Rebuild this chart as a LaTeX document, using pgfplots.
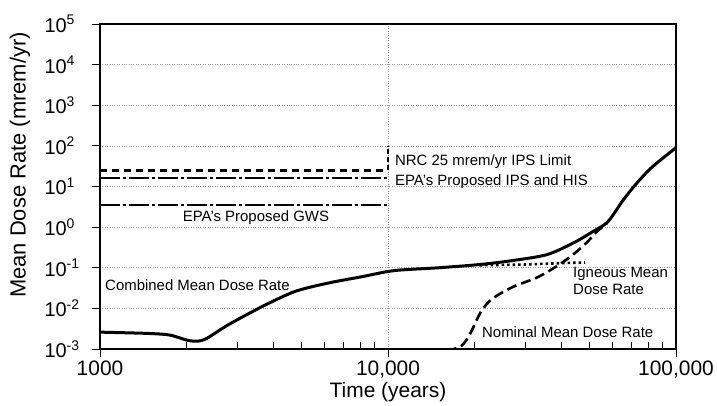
\documentclass[border=0pt]{standalone}
\usepackage{fontspec}
\setmainfont{Liberation Sans}
\usepackage{pgfplots}
\pgfplotsset{compat=1.18}
\begin{document}
\begin{tikzpicture}
\begin{axis}[
  xmode=log, ymode=log,
  scale only axis, width=576bp, height=325bp,
  xmin=1000, xmax=100000, ymin=1e-3, ymax=1e5,
  axis line style={line width=1.4bp},
  xtick={1000,10000,100000},
  xticklabels={1000,{10,000},{100,000}},
  ytick={1e-3,1e-2,1e-1,1,1e1,1e2,1e3,1e4,1e5},
  yticklabels={10\textsuperscript{-3},10\textsuperscript{-2},10\textsuperscript{-1},10\textsuperscript{0},10\textsuperscript{1},10\textsuperscript{2},10\textsuperscript{3},10\textsuperscript{4},10\textsuperscript{5}},
  yminorticks=false, xminorticks=false,
  tick align=outside, major tick length=8bp,
  tick style={black, line width=0.9bp},
  xtick pos=bottom, ytick pos=left,
  extra x ticks={2000,3000,4000,5000,6000,7000,8000,9000,20000,30000,40000,50000,60000,70000,80000,90000},
  extra x tick labels={},
  extra x tick style={grid=none, tick align=inside, major tick length=7bp},
  xticklabel style={font=\fontsize{21}{24}\selectfont},
  yticklabel style={font=\fontsize{20}{23}\selectfont, text width=38bp, align=left, xshift=-6bp},
  xmajorgrids, ymajorgrids,
  major grid style={dotted, gray!80, line width=0.7bp},
  xlabel={Time (years)},
  ylabel={Mean Dose Rate (mrem/yr)},
  every axis x label/.style={at={(axis description cs:0.5,-0.132)}, anchor=center, font=\fontsize{21}{24}\selectfont},
  every axis y label/.style={at={(axis description cs:-0.139,0.566)}, rotate=90, anchor=center, font=\fontsize{22}{25}\selectfont},
]
% NRC 25 mrem/yr IPS limit
\addplot[black, line width=2.4bp, dash pattern=on 7bp off 5bp] coordinates {(1000,25) (10000,25)};
\addplot[black, line width=2.4bp, dash pattern=on 5bp off 3bp] coordinates {(10000,25) (10000,100)};
% EPA proposed IPS and HIS
\addplot[black, line width=2.4bp, dash pattern=on 20bp off 3bp on 3bp off 3bp] coordinates {(1000,16) (10000,16)};
% EPA proposed GWS
\addplot[black, line width=2.4bp, dash pattern=on 20bp off 3bp on 3bp off 3bp] coordinates {(1000,3.5) (10000,3.5)};
% Nominal mean dose rate
\addplot[black, line width=2.6bp, dash pattern=on 10bp off 5bp, smooth] coordinates {
 (16000,0.0009) (18000,0.0012) (19300,0.0024) (20400,0.0055) (21400,0.010) (23200,0.018)
 (27200,0.034) (33000,0.058) (38600,0.11) (43900,0.21) (49000,0.42) (53200,0.78) (57600,1.25)};
% Igneous mean dose rate
\addplot[black, line width=2.6bp, dash pattern=on 2.5bp off 3bp] coordinates {
 (20800,0.115) (30000,0.12) (40000,0.13) (48300,0.135)};
% Combined mean dose rate
\addplot[black, line width=3bp, smooth] coordinates {
 (1000,0.0026) (1250,0.0025) (1500,0.0024) (1750,0.0022) (2050,0.0016) (2300,0.0017)
 (2780,0.0039) (3650,0.011) (4750,0.026) (6200,0.042) (8100,0.060) (10500,0.085)
 (15000,0.10) (20800,0.12) (27000,0.15) (35600,0.21) (43800,0.40) (51500,0.78)
 (58000,1.36) (65500,4.6) (73000,12) (83000,31) (100000,90)};
\begin{scope}[every node/.style={font=\fontsize{15}{17}\selectfont, inner sep=0pt}]
\node[anchor=west] at (axis cs:10570,41) {NRC 25 mrem/yr IPS Limit};
\node[anchor=west] at (axis cs:10570,13.2) {EPA's Proposed IPS and HIS};
\node[anchor=center] at (axis cs:3480,1.75) {EPA's Proposed GWS};
\node[anchor=west] at (axis cs:1041,0.0377) {Combined Mean Dose Rate};
\node[anchor=west, align=left] at (axis cs:43900,0.048) {Igneous Mean\\Dose Rate};
\node[anchor=west] at (axis cs:21200,0.00258) {Nominal Mean Dose Rate};
\end{scope}
\end{axis}
\pgfresetboundingbox
\path[use as bounding box] ([xshift=-100bp,yshift=-57bp]current axis.south west) rectangle ([xshift=41bp,yshift=24bp]current axis.north east);
\end{tikzpicture}
\end{document}
